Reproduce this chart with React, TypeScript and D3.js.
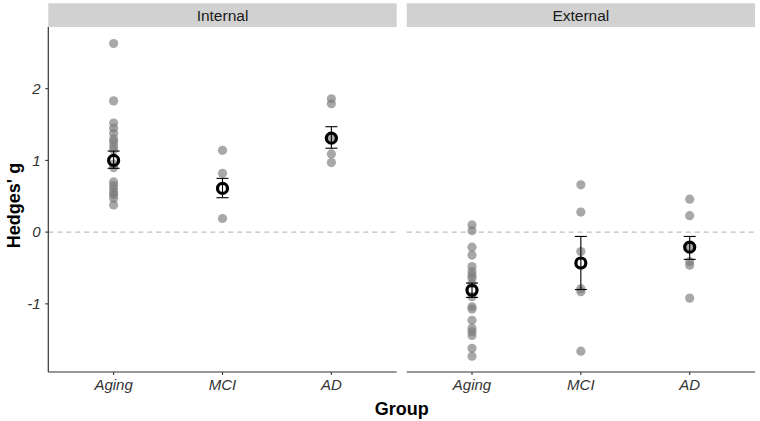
import React from "react";
import * as d3 from "d3";

const panels = ["Internal", "External"];
const groups = ["Aging", "MCI", "AD"];
const yTicks = [-1, 0, 1, 2];

const internalAging = [2.63, 1.83, 1.52, 1.45, 1.38, 1.3, 1.26, 1.2, 1.15, 0.95, 0.9, 0.7, 0.65, 0.6, 0.55, 0.52, 0.47, 0.38];
const internalMCI = [1.14, 0.82, 0.19];
const internalAD = [1.86, 1.79, 1.32, 1.09, 0.97];
const externalAging = [0.1, 0.02, -0.21, -0.32, -0.48, -0.55, -0.6, -0.64, -0.72, -0.9, -1.04, -1.07, -1.23, -1.34, -1.39, -1.44, -1.62, -1.73];
const externalMCI = [0.66, 0.28, -0.27, -0.79, -0.83, -1.66];
const externalAD = [0.46, 0.23, -0.2, -0.41, -0.46, -0.92];

const internalMean = [1.0, 0.61, 1.31];
const internalLow = [0.89, 0.48, 1.17];
const internalHigh = [1.13, 0.75, 1.47];
const externalMean = [-0.81, -0.43, -0.21];
const externalLow = [-0.91, -0.8, -0.38];
const externalHigh = [-0.71, -0.06, -0.06];

const W = 760;
const H = 421;
const top = 27;
const bottom = 372;
const panelX = [
  [48.3, 396.7],
  [406.7, 755],
];
const font = "'Liberation Sans', Arial, Helvetica, sans-serif";

export default function App() {
  const y = d3.scaleLinear().domain([-1.95, 2.86]).range([bottom, top]);
  const pts = [
    [internalAging, internalMCI, internalAD],
    [externalAging, externalMCI, externalAD],
  ];
  const means = [internalMean, externalMean];
  const lows = [internalLow, externalLow];
  const highs = [internalHigh, externalHigh];

  return (
    <svg width={W} height={H} style={{ position: "absolute", left: 0, top: 0 }} fontFamily={font}>
      <rect width={W} height={H} fill="#fff" />
      {panels.map((p, pi) => {
        const [x0, x1] = panelX[pi];
        const x = d3.scalePoint<string>().domain(groups).range([x0, x1]).padding(0.6);
        return (
          <g key={p}>
            <rect x={x0} y={3.3} width={x1 - x0} height={top - 3.3} fill="#d1d1d1" />
            <text x={(x0 + x1) / 2} y={21} textAnchor="middle" fontSize={15.5} fill="#1a1a1a">
              {p}
            </text>
            <line x1={x0} x2={x1} y1={y(0)} y2={y(0)} stroke="#bdbdbd" strokeWidth={1.1} strokeDasharray="5,4" />
            {groups.map((g, gi) => {
              const cx = x(g)!;
              return (
                <g key={g}>
                  {pts[pi][gi].map((v, k) => (
                    <circle key={k} cx={cx} cy={y(v)} r={4.6} fill="#7a7a7a" fillOpacity={0.65} />
                  ))}
                </g>
              );
            })}
            {groups.map((g, gi) => {
              const cx = x(g)!;
              return (
                <g key={"m" + g}>
                  <line x1={cx} x2={cx} y1={y(lows[pi][gi])} y2={y(highs[pi][gi])} stroke="#000" strokeWidth={1.1} />
                  <line x1={cx - 6} x2={cx + 6} y1={y(lows[pi][gi])} y2={y(lows[pi][gi])} stroke="#000" strokeWidth={1.1} />
                  <line x1={cx - 6} x2={cx + 6} y1={y(highs[pi][gi])} y2={y(highs[pi][gi])} stroke="#000" strokeWidth={1.1} />
                  <circle cx={cx} cy={y(means[pi][gi])} r={5} fill="none" stroke="#000" strokeWidth={3.2} />
                </g>
              );
            })}
            <line x1={x0} x2={x1} y1={bottom} y2={bottom} stroke="#333" strokeWidth={1.2} />
            {groups.map((g) => (
              <g key={"t" + g}>
                <line x1={x(g)!} x2={x(g)!} y1={bottom} y2={bottom + 3} stroke="#333" strokeWidth={1.1} />
                <text x={x(g)!} y={bottom + 17.5} textAnchor="middle" fontSize={15} fontStyle="italic" fill="#333">
                  {g}
                </text>
              </g>
            ))}
          </g>
        );
      })}
      <line x1={48.3} x2={48.3} y1={top} y2={bottom} stroke="#333" strokeWidth={1.2} />
      {yTicks.map((t) => (
        <g key={t}>
          <line x1={45.3} x2={48.3} y1={y(t)} y2={y(t)} stroke="#333" strokeWidth={1.1} />
          <text x={40.5} y={y(t) + 5.3} textAnchor="end" fontSize={15} fontStyle="italic" fill="#333">
            {t}
          </text>
        </g>
      ))}
      <text
        transform={`translate(20,${(top + bottom) / 2 + 6}) rotate(-90)`}
        textAnchor="middle"
        fontSize={18}
        fontWeight="bold"
        fill="#000"
      >
        Hedges' g
      </text>
      <text x={(48.3 + 755) / 2} y={414.5} textAnchor="middle" fontSize={18} fontWeight="bold" fill="#000">
        Group
      </text>
    </svg>
  );
}
